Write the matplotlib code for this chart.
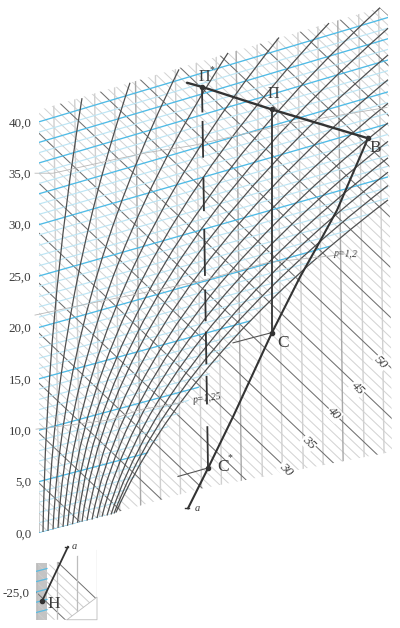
import numpy as np
import matplotlib
matplotlib.use("Agg")
import matplotlib.pyplot as plt
from matplotlib.patches import Polygon, PathPatch
from matplotlib.path import Path

plt.rcParams['font.family'] = ['Liberation Serif', 'DejaVu Serif']

# value ticks
tick_values = [0, 5, 10, 15, 20, 25, 30, 35, 40]
tick_labels = ['0,0', '5,0', '10,0', '15,0', '20,0', '25,0', '30,0', '35,0', '40,0']

# outlines (x, value)
hatch_x = [0, 77, 161, 353, 349, 341, -5]
hatch_v = [0, 2.0, 4.3, 7.9, 50.4, 51.1, 41.0]
fan_x = [0, 77, 109, 214, 294, 336, 349, 349, 341, -5]
fan_v = [0, 2.0, 7.8, 20.9, 28.2, 31.4, 32.4, 50.4, 51.1, 41.0]

# horizontal family (blue)
blue_values = list(range(0, 41))
blue_strong = [0, 5, 10, 15, 20, 25, 30, 33, 36, 38, 40]
blue_rise_at = [0, 20, 40]
blue_rise = [9.1, 9.8, 10.5]

# vertical family
vertical_x = [0, 20, 41, 61, 81, 102, 122, 142, 163, 183, 203, 224, 244, 265, 285, 305, 326, 346]
vertical_strong = [0, 102, 203, 305]

# diagonal family
hatch_values = list(range(0, 86))
hatch_labels = ['30', '35', '40', '45', '50']
hatch_label_x = [247, 270, 295, 319, 342]
hatch_label_v = [6.2, 8.8, 11.6, 14.1, 16.6]

# fan curves: start, bend control, end
curve_x0 = [4, 9, 14, 19, 24, 28.5, 33.5, 38.5, 43, 48, 53, 58, 63, 68, 72, 75, 77]
curve_v0 = [0.1, 0.2, 0.35, 0.5, 0.6, 0.7, 0.85, 1.0, 1.1, 1.2, 1.3, 1.45, 1.6, 1.7, 1.8, 1.9, 2.0]
curve_xc = [7.5, 16, 25, 34, 43, 52, 61, 68, 74, 83, 92, 101, 110, 119, 129, 137, 144.5]
curve_x1 = [43, 91, 140, 189, 240, 290, 341, 349, 349, 349, 349, 349, 349, 349, 349, 349, 349]
curve_v1 = [42.3, 43.8, 45.1, 46.7, 48.2, 49.6, 51.1, 49.1, 46.5, 44.1, 41.8, 39.9, 38.1, 36.5, 35.1, 33.8, 32.4]

# thin grey pressure curves
p1_x = [-4, 14, 74, 108, 154, 254, 348]
p1_v = [35.0, 35.0, 36.3, 37.0, 37.7, 39.9, 41.4]
p2_x = [-4, 44, 116, 161, 228, 296]
p2_v = [21.2, 22.2, 23.6, 24.5, 26.3, 27.0]
p3_x = [-3, 71, 101, 144]
p3_v = [10.1, 11.0, 12.0, 12.7]

# cycle
top_x = [148, 163, 233, 329]
top_v = [43.8, 43.4, 41.2, 38.4]
comp_x = [329, 298, 276, 261, 233, 194, 169, 149]
comp_v = [38.4, 31.4, 27.5, 24.9, 19.5, 11.3, 6.3, 2.4]
dash_start_v = [43.4, 40.0, 34.5, 29.5, 23.6, 19.5, 15.2, 10.3]
dash_end_v = [41.0, 36.6, 31.4, 25.1, 20.7, 16.5, 12.6, 6.3]

# inset
inset_blue = [-23, -24, -25, -26, -27]
inset_hatch = [-20.1, -21.1, -22.1, -23.0, -24.0, -25.0, -26.0, -26.9, -27.9, -28.9, -29.9, -30.8]
inset_hatch_strong = [-20.1, -25.0]
inset_vertical = [1, 21, 41, 61]
inset_x = [0, 11, 61, 61, 31, 0]
inset_v = [-22.2, -22.4, -20.9, -25.5, -27.7, -27.7]

BLUE = '#4fbbe6'
BLUE_L = '#bde5f4'
FAN = '#505050'
INK = '#333333'
TXT = '#3c3c3c'

fig = plt.figure(figsize=(4.0, 6.28), dpi=100)
H = 628.0
ax = fig.add_axes([39 / 400, (H - 540) / H, 361 / 400, 540 / H])
ax.set_xlim(0, 361)
ax.set_ylim(-0.68, 51.85)
ax.patch.set_alpha(0)
for s in ax.spines.values():
    s.set_visible(False)
ax.set_xticks([])
ax.set_yticks(tick_values)
ax.set_yticklabels(tick_labels, fontsize=9.4, color=TXT)
ax.tick_params(axis='y', length=0, pad=5.5)

hatch_clip = Polygon(np.c_[hatch_x, hatch_v], closed=True, transform=ax.transData)
fan_clip = Polygon(np.c_[fan_x, fan_v], closed=True, transform=ax.transData)
xs = np.array([-10.0, 361.0])

for val in hatch_values:
    strong = val % 5 == 0
    ln, = ax.plot(xs, 0.972 * val - 0.0924 * xs,
                  color='#707070' if strong else '#d2d2d2',
                  lw=0.75 if strong else 0.7, zorder=2 if strong else 1)
    ln.set_clip_path(hatch_clip)

for x0 in vertical_x:
    strong = x0 in vertical_strong
    ln, = ax.plot([x0 + 0.125, x0 - 6.625], [-1, 53],
                  color='#a8a8a8' if strong else '#d0d0d0',
                  lw=1.0, zorder=1.5)
    ln.set_clip_path(hatch_clip)

for val in blue_values:
    strong = val in blue_strong
    rise = np.interp(val, blue_rise_at, blue_rise)
    ln, = ax.plot(xs, val + rise * xs / 361.0,
                  color=BLUE if strong else BLUE_L,
                  lw=0.95 if strong else 0.85, zorder=3 if strong else 2.5)
    ln.set_clip_path(fan_clip)

for x0, v0, xc, x1, v1 in zip(curve_x0, curve_v0, curve_xc, curve_x1, curve_v1):
    path = Path([(x0, v0), (xc, (v0 + v1) / 2), (x1, v1)],
                [Path.MOVETO, Path.CURVE3, Path.CURVE3])
    ax.add_patch(PathPatch(path, fc='none', ec=FAN, lw=0.9, zorder=4, clip_on=False))

for px, pv in [(p1_x, p1_v), (p2_x, p2_v), (p3_x, p3_v)]:
    ax.plot(px, pv, color='#b8b8b8', lw=0.6, zorder=4.5, clip_on=False)

ax.plot(top_x, top_v, color=INK, lw=1.7, zorder=6, solid_capstyle='round', clip_on=False)
ax.plot(comp_x, comp_v, color=INK, lw=1.5, zorder=6)
ax.plot([233, 233], [41.2, 19.5], color=INK, lw=1.3, zorder=6)
ax.plot([194, 233], [18.5, 19.5], color='#555555', lw=0.8, zorder=5)
ax.plot([139, 168], [5.5, 6.3], color='#555555', lw=0.8, zorder=5)
ax.plot([146, 150], [2.4, 2.4], color=INK, lw=1.0, zorder=6)
for a, b in zip(dash_start_v, dash_end_v):
    ax.plot(np.interp([a, b], [6.3, 43.4], [169, 163]), [a, b], color=INK, lw=1.3, zorder=6)
ax.plot([163, 233, 329, 233, 169], [43.4, 41.2, 38.4, 19.5, 6.3], ls='none',
        marker='o', ms=3.0, color=INK, zorder=7)

def lab(x, v, s, **kw):
    kw.setdefault('fontsize', 12.5)
    kw.setdefault('color', TXT)
    ax.text(x, v, s, ha='center', va='center', zorder=8, clip_on=False, **kw)

lab(165, 44.4, 'П', fontsize=11.5)
lab(173, 45.1, '*', fontsize=7)
lab(234, 42.7, 'П', fontsize=11.5)
lab(336, 37.5, 'В')
lab(244, 18.5, 'С')
lab(184, 6.4, 'С')
lab(191, 7.3, '*', fontsize=7)
lab(158, 2.4, 'a', fontsize=7.5, style='italic')
lab(307, 27.1, 'p=1,2', fontsize=7, style='italic', rotation=-3)
lab(168, 13.1, 'p=1,25', fontsize=7, style='italic', rotation=8)
for s, x, v in zip(hatch_labels, hatch_label_x, hatch_label_v):
    ax.text(x, v, s, fontsize=9.5, style='italic', rotation=-45, color=TXT,
            ha='center', va='center', zorder=8,
            bbox=dict(fc='white', ec='none', pad=0.6))

# lower inset
iax = fig.add_axes([36 / 400, (H - 622) / H, 66 / 400, 77 / H])
iax.set_xlim(0, 66)
iax.set_ylim(-27.92, -20.43)
iax.patch.set_alpha(0)
for s in iax.spines.values():
    s.set_visible(False)
iax.set_xticks([])
iax.set_yticks([-25])
iax.set_yticklabels(['-25,0'], fontsize=9.4, color=TXT)
iax.tick_params(axis='y', length=0, pad=5)

inset_clip = Polygon(np.c_[inset_x, inset_v], closed=True, transform=iax.transData)
xi = np.array([-2.0, 66.0])
iax.fill_between([0, 11], -27.7, -22.2, color='#c4c4c4', lw=0, zorder=0)
for v0 in inset_hatch:
    strong = v0 in inset_hatch_strong
    ln, = iax.plot(xi, v0 - 0.0924 * xi, color='#707070' if strong else '#cdcdcd', lw=0.7, zorder=1)
    ln.set_clip_path(inset_clip)
for x0 in inset_vertical:
    ln, = iax.plot([x0, x0], [-28, -20], color='#bdbdbd', lw=0.9, zorder=1)
    ln.set_clip_path(inset_clip)
for v0 in inset_blue:
    iax.plot([0, 11], [v0, v0 + 0.28], color=BLUE, lw=0.9, zorder=2, alpha=0.9)
iax.plot([31, 61, 61, 31], [-27.7, -27.7, -25.5, -27.7], color='#bdbdbd', lw=0.6, zorder=1)
iax.plot([6, 32], [-25.9, -20.6], color=INK, lw=1.3, zorder=4)
iax.plot([29, 32], [-20.6, -20.6], color=INK, lw=1.0, zorder=4)
iax.plot([6], [-25.9], marker='o', ms=3.0, color=INK, zorder=5)
iax.text(38, -20.55, 'a', fontsize=7.5, style='italic', color=TXT, ha='center', va='center')
iax.text(18, -26.2, 'Н', fontsize=12.5, color=TXT, ha='center', va='center')

fig.savefig('out.png', dpi=100)
